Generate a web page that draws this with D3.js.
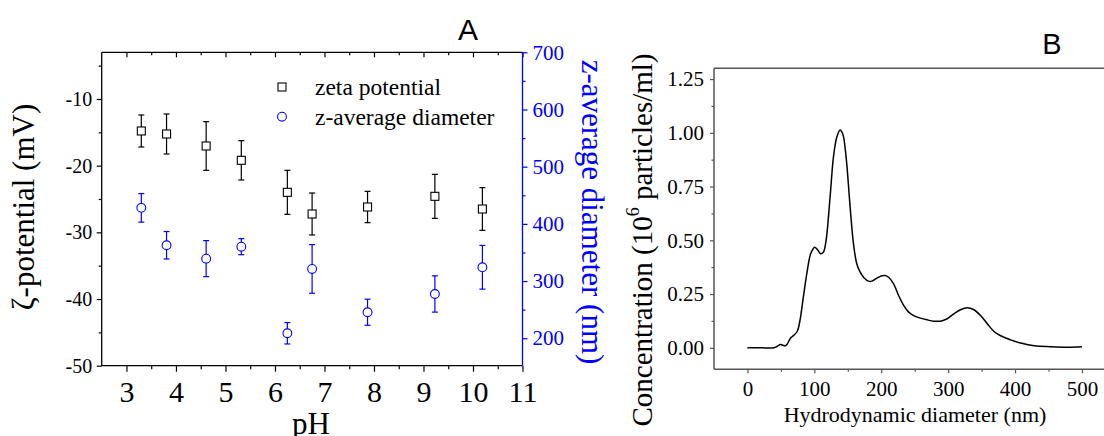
<!DOCTYPE html>
<html>
<head>
<meta charset="utf-8">
<script src="https://cdn.jsdelivr.net/npm/d3@7"></script>
<style>
  body { margin: 0; background: #fff; }
  svg text { font-family: "Liberation Serif", "Times New Roman", serif; }
</style>
</head>
<body>
<svg id="fig" width="1104" height="436"></svg>
<script>
// ---- panel A data ----
var ph        = [3.30, 3.81, 4.61, 5.32, 6.25, 6.75, 7.87, 9.23, 10.19];
var zeta      = [-14.8, -15.25, -17.05, -19.2, -24.0, -27.25, -26.2, -24.6, -26.5];
var zetaErr   = [2.4, 3.0, 3.65, 2.95, 3.3, 3.15, 2.35, 3.3, 3.2];
var zavg      = [428, 362.6, 339.2, 360.1, 208.7, 321.2, 245.5, 277.4, 324.1];
var zavgErr   = [25, 24, 31.5, 14, 18.7, 42.5, 22.8, 31.7, 38.2];
var phTicks   = [3, 4, 5, 6, 7, 8, 9, 10, 11];
var zetaTicks = [-50, -40, -30, -20, -10];
var zavgTicks = [200, 300, 400, 500, 600, 700];

// ---- panel B data ----
var diam = [0, 20, 39.5, 44, 49.5, 53, 56.5, 59.5, 64.5, 69.5, 74.5, 78.5, 83.5, 89.5, 94.5, 100.5,
            104.5, 109.5, 113.5, 117.5, 123.5, 128.5, 133.5, 138.5, 142.5, 147.5, 153.5, 158.5,
            163.5, 168.5, 174.5, 181, 186, 193.5, 201, 206, 211, 218.5, 226, 233.5, 241, 248.5,
            258.5, 268.5, 278.5, 288.5, 298.5, 308.5, 318.5, 328.5, 338.5, 348.5, 358.5, 368.5,
            378.5, 393.5, 408.5, 428.5, 453.5, 478.5, 500];
var conc = [0, 0, 0, 0.006, 0.015, 0.012, 0.009, 0.018, 0.046, 0.059, 0.077, 0.127, 0.235, 0.36, 0.437, 0.468,
            0.457, 0.437, 0.445, 0.499, 0.70, 0.886, 0.979, 1.013, 0.994, 0.886, 0.654, 0.483,
            0.39, 0.352, 0.325, 0.31, 0.31, 0.324, 0.335, 0.336, 0.328, 0.297, 0.243, 0.197, 0.166, 0.15,
            0.138, 0.13, 0.124, 0.124, 0.135, 0.158, 0.177, 0.186, 0.177, 0.15, 0.112, 0.076,
            0.056, 0.037, 0.022, 0.009, 0.005, 0.003, 0.005];
var diamTicks = [0, 100, 200, 300, 400, 500];
var concTicks = [0, 0.25, 0.5, 0.75, 1.0, 1.25];

var BLUE = "#0000ff";
var svg = d3.select("#fig");
svg.append("rect").attr("width", 1104).attr("height", 436).attr("fill", "#fff");

function minorsOf(arr, step) {
    var out = [];
    arr.forEach(function(v) { out.push(v + step); });
    return out;
}
// plain hyphen instead of the unicode minus d3.format gives
function plain(d) { return String(d); }

/* ================= panel A ================= */
var aL = 101.7, aR = 522.5, aT = 52.3, aB = 365.7;
var x = d3.scaleLinear().domain([2.5, 11]).range([aL, aR]);
var yL = d3.scaleLinear().domain([-50, -3]).range([aB, aT]);
var yR = d3.scaleLinear().domain([152, 700]).range([aB, aT]);

var gA = svg.append("g");

function styleAxis(g, color) {
    g.select(".domain").remove();
    g.selectAll("line").attr("stroke", color).attr("stroke-width", 1.2);
    g.selectAll("text").attr("fill", color).attr("font-family", "Liberation Serif, serif");
}

// bottom
var ax = gA.append("g").attr("transform", "translate(0," + aB + ")")
    .call(d3.axisBottom(x).tickValues(phTicks).tickSize(6).tickPadding(9).tickFormat(plain));
styleAxis(ax, "#000");
ax.selectAll("text").attr("font-size", 30);
var axm = gA.append("g").attr("transform", "translate(0," + aB + ")")
    .call(d3.axisBottom(x).tickValues(minorsOf(phTicks.slice(0, -1), 0.5)).tickSize(3.5).tickFormat(""));
styleAxis(axm, "#000");
// top (inward)
var at = gA.append("g").attr("transform", "translate(0," + aT + ")")
    .call(d3.axisBottom(x).tickValues(phTicks).tickSize(5).tickFormat(""));
styleAxis(at, "#000");
var atm = gA.append("g").attr("transform", "translate(0," + aT + ")")
    .call(d3.axisBottom(x).tickValues(minorsOf(phTicks.slice(0, -1), 0.5)).tickSize(3).tickFormat(""));
styleAxis(atm, "#000");
// left
var ay = gA.append("g").attr("transform", "translate(" + aL + ",0)")
    .call(d3.axisLeft(yL).tickValues(zetaTicks).tickSize(5).tickPadding(4.5).tickFormat(plain));
styleAxis(ay, "#000");
ay.selectAll("text").attr("font-size", 20);
var aym = gA.append("g").attr("transform", "translate(" + aL + ",0)")
    .call(d3.axisLeft(yL).tickValues(minorsOf(zetaTicks, 5)).tickSize(3).tickFormat(""));
styleAxis(aym, "#000");
// right (blue)
var ar = gA.append("g").attr("transform", "translate(" + aR + ",0)")
    .call(d3.axisRight(yR).tickValues(zavgTicks).tickSize(5).tickPadding(5).tickFormat(plain));
styleAxis(ar, BLUE);
ar.selectAll("text").attr("font-size", 21);
var arm = gA.append("g").attr("transform", "translate(" + aR + ",0)")
    .call(d3.axisRight(yR).tickValues(minorsOf(zavgTicks.slice(0, -1), 50)).tickSize(3).tickFormat(""));
styleAxis(arm, BLUE);

// frame
gA.append("line").attr("x1", aL).attr("x2", aR).attr("y1", aT).attr("y2", aT).attr("stroke", "#000").attr("stroke-width", 1.3);
gA.append("line").attr("x1", aL).attr("x2", aR).attr("y1", aB).attr("y2", aB).attr("stroke", "#000").attr("stroke-width", 1.3);
gA.append("line").attr("x1", aL).attr("x2", aL).attr("y1", aT).attr("y2", aB).attr("stroke", "#000").attr("stroke-width", 1.3);
gA.append("line").attr("x1", aR).attr("x2", aR).attr("y1", aT).attr("y2", aB).attr("stroke", BLUE).attr("stroke-width", 1.3);

// error bars
function errorBars(vals, errs, yscale, color) {
    var g = gA.append("g").attr("stroke", color).attr("stroke-width", 1.2).attr("fill", "none");
    vals.forEach(function(v, i) {
        var cx = x(ph[i]);
        g.append("line").attr("x1", cx).attr("x2", cx)
            .attr("y1", yscale(v + errs[i])).attr("y2", yscale(v - errs[i]));
        g.append("line").attr("x1", cx - 3).attr("x2", cx + 3)
            .attr("y1", yscale(v + errs[i])).attr("y2", yscale(v + errs[i]));
        g.append("line").attr("x1", cx - 3).attr("x2", cx + 3)
            .attr("y1", yscale(v - errs[i])).attr("y2", yscale(v - errs[i]));
    });
}
errorBars(zeta, zetaErr, yL, "#000");
errorBars(zavg, zavgErr, yR, BLUE);

gA.selectAll(".sq").data(zeta).enter().append("rect")
    .attr("x", function(d, i) { return x(ph[i]) - 4; })
    .attr("y", function(d) { return yL(d) - 4; })
    .attr("width", 8).attr("height", 8)
    .attr("fill", "#fff").attr("stroke", "#000").attr("stroke-width", 1.1);
gA.selectAll(".ci").data(zavg).enter().append("circle")
    .attr("cx", function(d, i) { return x(ph[i]); })
    .attr("cy", function(d) { return yR(d); })
    .attr("r", 4.4)
    .attr("fill", "#fff").attr("stroke", BLUE).attr("stroke-width", 1.1);

// legend
gA.append("rect").attr("x", 278).attr("y", 83).attr("width", 8).attr("height", 8)
    .attr("fill", "#fff").attr("stroke", "#000").attr("stroke-width", 1.1);
gA.append("circle").attr("cx", 282).attr("cy", 116.7).attr("r", 4.4)
    .attr("fill", "#fff").attr("stroke", BLUE).attr("stroke-width", 1.1);
gA.append("text").attr("x", 315).attr("y", 94.5).attr("font-size", 23.5).text("zeta potential");
gA.append("text").attr("x", 315).attr("y", 124.5).attr("font-size", 23.5).text("z-average diameter");

// titles
gA.append("text").attr("x", 468).attr("y", 40).attr("text-anchor", "middle")
    .attr("font-size", 30).style("font-family", "Liberation Sans, Arial, sans-serif").text("A");
gA.append("text").attr("x", 311).attr("y", 434).attr("text-anchor", "middle")
    .attr("font-size", 31).text("pH");
gA.append("text").attr("transform", "translate(34,207) rotate(-90)").attr("text-anchor", "middle")
    .attr("font-size", 31).text("\u03b6-potential (mV)");
gA.append("text").attr("transform", "translate(582,212) rotate(90)").attr("text-anchor", "middle")
    .attr("font-size", 31).attr("fill", BLUE).text("z-average diameter (nm)");

/* ================= panel B ================= */
var bL = 714, bT = 68.3, bB = 369.3;
var xb = d3.scaleLinear().domain([-50, 550]).range([bL, bL + 600 * 0.669]);
var yb = d3.scaleLinear().domain([-0.1, 1.3]).range([bB, bT]);
var gB = svg.append("g");
var FRAME = "#555";

var bx = gB.append("g").attr("transform", "translate(0," + bB + ")")
    .call(d3.axisBottom(xb).tickValues(diamTicks).tickSize(4).tickPadding(8).tickFormat(plain));
styleAxis(bx, FRAME);
bx.selectAll("text").attr("fill", "#000").attr("font-size", 21);
var bxm = gB.append("g").attr("transform", "translate(0," + bB + ")")
    .call(d3.axisBottom(xb).tickValues(minorsOf(diamTicks, 50)).tickSize(2.5).tickFormat(""));
styleAxis(bxm, FRAME);
var by = gB.append("g").attr("transform", "translate(" + bL + ",0)")
    .call(d3.axisLeft(yb).tickValues(concTicks).tickSize(4).tickPadding(6).tickFormat(d3.format(".2f")));
styleAxis(by, FRAME);
by.selectAll("text").attr("fill", "#000").attr("font-size", 21);
var bym = gB.append("g").attr("transform", "translate(" + bL + ",0)")
    .call(d3.axisLeft(yb).tickValues(minorsOf(concTicks.slice(0, -1), 0.125)).tickSize(2.5).tickFormat(""));
styleAxis(bym, FRAME);

gB.append("line").attr("x1", bL).attr("x2", 1104).attr("y1", bT).attr("y2", bT).attr("stroke", FRAME).attr("stroke-width", 1.5);
gB.append("line").attr("x1", bL).attr("x2", 1104).attr("y1", bB).attr("y2", bB).attr("stroke", FRAME).attr("stroke-width", 1.5);
gB.append("line").attr("x1", bL).attr("x2", bL).attr("y1", bT).attr("y2", bB).attr("stroke", FRAME).attr("stroke-width", 1.5);

var line = d3.line()
    .x(function(d, i) { return xb(diam[i]); })
    .y(function(d) { return yb(d); })
    .curve(d3.curveCatmullRom.alpha(0.5));
gB.append("path").datum(conc).attr("d", line)
    .attr("fill", "none").attr("stroke", "#000").attr("stroke-width", 1.5);

gB.append("text").attr("x", 1052).attr("y", 54.3).attr("text-anchor", "middle")
    .attr("font-size", 29).style("font-family", "Liberation Sans, Arial, sans-serif").text("B");
gB.append("text").attr("x", 915).attr("y", 422).attr("text-anchor", "middle")
    .attr("font-size", 22).text("Hydrodynamic diameter (nm)");
var cl = gB.append("text").attr("transform", "translate(652,240) rotate(-90)").attr("text-anchor", "middle")
    .attr("font-size", 29);
cl.append("tspan").text("Concentration (10");
cl.append("tspan").attr("font-size", 18).attr("dy", -13).text("6");
cl.append("tspan").attr("dy", 13).text(" particles/ml)");
</script>
</body>
</html>
